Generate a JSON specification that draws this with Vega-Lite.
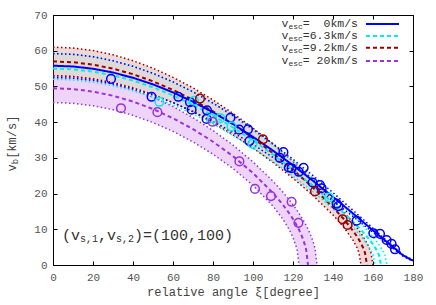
{
  "$schema": "https://vega.github.io/schema/vega-lite/v6.json",
  "width": 360,
  "height": 250,
  "autosize": {"type": "none"},
  "padding": {"left": 53, "top": 15, "right": 23, "bottom": 40},
  "background": "white",
  "config": {
    "view": {"stroke": "#000", "strokeWidth": 1},
    "axis": {
      "labelFont": "Liberation Mono",
      "labelFontSize": 11,
      "labelColor": "#555",
      "titleFont": "Liberation Mono",
      "titleFontSize": 12,
      "titleFontWeight": "normal",
      "titleColor": "#444",
      "tickColor": "#000",
      "domain": false,
      "grid": false
    }
  },
  "datasets": {
    "curves": [
      {"s": "20", "xi": 0, "lo": 45.5, "mid": 49.5, "hi": 53},
      {"s": "20", "xi": 10, "lo": 45.28, "mid": 49.27, "hi": 52.76},
      {"s": "20", "xi": 20, "lo": 44.6, "mid": 48.56, "hi": 52.03},
      {"s": "20", "xi": 30, "lo": 43.48, "mid": 47.39, "hi": 50.83},
      {"s": "20", "xi": 40, "lo": 41.91, "mid": 45.76, "hi": 49.15},
      {"s": "20", "xi": 50, "lo": 39.89, "mid": 43.66, "hi": 46.99},
      {"s": "20", "xi": 60, "lo": 37.42, "mid": 41.09, "hi": 44.36},
      {"s": "20", "xi": 70, "lo": 34.47, "mid": 38.05, "hi": 41.25},
      {"s": "20", "xi": 80, "lo": 31.03, "mid": 34.52, "hi": 37.66},
      {"s": "20", "xi": 90, "lo": 27.02, "mid": 30.45, "hi": 33.56},
      {"s": "20", "xi": 100, "lo": 22.3, "mid": 25.74, "hi": 28.88},
      {"s": "20", "xi": 110, "lo": 16.48, "mid": 20.16, "hi": 23.46},
      {"s": "20", "xi": 115, "lo": 12.79, "mid": 16.84, "hi": 20.37},
      {"s": "20", "xi": 118, "lo": 10.04, "mid": 14.56, "hi": 18.33},
      {"s": "20", "xi": 120, "lo": 7.74, "mid": 12.87, "hi": 16.87},
      {"s": "20", "xi": 122, "lo": 4.44, "mid": 10.96, "hi": 15.31},
      {"s": "20", "xi": 123, "lo": 0.01, "mid": 9.88, "hi": 14.47},
      {"s": "20", "xi": 125, "lo": 0, "mid": 7.32, "hi": 12.68},
      {"s": "20", "xi": 126.5, "lo": 0, "mid": 4.58, "hi": 11.17},
      {"s": "20", "xi": 127.5, "lo": 0, "mid": 0.01, "hi": 10.08},
      {"s": "20", "xi": 128, "lo": 0, "mid": null, "hi": 9.49},
      {"s": "20", "xi": 130, "lo": 0, "mid": null, "hi": 6.66},
      {"s": "20", "xi": 131, "lo": 0, "mid": null, "hi": 4.69},
      {"s": "20", "xi": 132, "lo": 0, "mid": null, "hi": 0.01},

      {"s": "9.2", "xi": 0, "lo": 53, "mid": 57, "hi": 61},
      {"s": "9.2", "xi": 10, "lo": 52.79, "mid": 56.77, "hi": 60.76},
      {"s": "9.2", "xi": 20, "lo": 52.15, "mid": 56.1, "hi": 60.04},
      {"s": "9.2", "xi": 30, "lo": 51.1, "mid": 54.98, "hi": 58.86},
      {"s": "9.2", "xi": 40, "lo": 49.63, "mid": 53.41, "hi": 57.2},
      {"s": "9.2", "xi": 50, "lo": 47.76, "mid": 51.43, "hi": 55.1},
      {"s": "9.2", "xi": 60, "lo": 45.49, "mid": 49.02, "hi": 52.55},
      {"s": "9.2", "xi": 70, "lo": 42.84, "mid": 46.22, "hi": 49.59},
      {"s": "9.2", "xi": 80, "lo": 39.83, "mid": 43.02, "hi": 46.21},
      {"s": "9.2", "xi": 90, "lo": 36.46, "mid": 39.46, "hi": 42.46},
      {"s": "9.2", "xi": 100, "lo": 32.75, "mid": 35.55, "hi": 38.33},
      {"s": "9.2", "xi": 110, "lo": 28.7, "mid": 31.28, "hi": 33.86},
      {"s": "9.2", "xi": 120, "lo": 24.29, "mid": 26.67, "hi": 29.04},
      {"s": "9.2", "xi": 130, "lo": 19.46, "mid": 21.67, "hi": 23.87},
      {"s": "9.2", "xi": 140, "lo": 14.01, "mid": 16.16, "hi": 18.25},
      {"s": "9.2", "xi": 145, "lo": 10.85, "mid": 13.09, "hi": 15.21},
      {"s": "9.2", "xi": 150, "lo": 6.96, "mid": 9.6, "hi": 11.89},
      {"s": "9.2", "xi": 152, "lo": 4.84, "mid": 7.97, "hi": 10.43},
      {"s": "9.2", "xi": 153, "lo": 3.4, "mid": 7.06, "hi": 9.66},
      {"s": "9.2", "xi": 154, "lo": 0.01, "mid": 6.06, "hi": 8.86},
      {"s": "9.2", "xi": 155, "lo": 0, "mid": 4.9, "hi": 8.0},
      {"s": "9.2", "xi": 156, "lo": 0, "mid": 3.42, "hi": 7.08},
      {"s": "9.2", "xi": 157, "lo": 0, "mid": 0.01, "hi": 6.07},
      {"s": "9.2", "xi": 158, "lo": 0, "mid": null, "hi": 4.9},
      {"s": "9.2", "xi": 159, "lo": 0, "mid": null, "hi": 3.43},
      {"s": "9.2", "xi": 160, "lo": 0, "mid": null, "hi": 0.01},

      {"s": "6.3", "xi": 0, "lo": 52, "mid": 55, "hi": 59.3},
      {"s": "6.3", "xi": 10, "lo": 51.8, "mid": 54.79, "hi": 59.07},
      {"s": "6.3", "xi": 20, "lo": 51.19, "mid": 54.15, "hi": 58.39},
      {"s": "6.3", "xi": 30, "lo": 50.18, "mid": 53.09, "hi": 57.25},
      {"s": "6.3", "xi": 40, "lo": 48.77, "mid": 51.62, "hi": 55.68},
      {"s": "6.3", "xi": 50, "lo": 46.98, "mid": 49.74, "hi": 53.67},
      {"s": "6.3", "xi": 60, "lo": 44.82, "mid": 47.47, "hi": 51.24},
      {"s": "6.3", "xi": 70, "lo": 42.3, "mid": 44.83, "hi": 48.42},
      {"s": "6.3", "xi": 80, "lo": 39.44, "mid": 41.84, "hi": 45.22},
      {"s": "6.3", "xi": 90, "lo": 36.25, "mid": 38.5, "hi": 41.66},
      {"s": "6.3", "xi": 100, "lo": 32.75, "mid": 34.85, "hi": 37.76},
      {"s": "6.3", "xi": 110, "lo": 28.96, "mid": 30.91, "hi": 33.56},
      {"s": "6.3", "xi": 120, "lo": 24.88, "mid": 26.67, "hi": 29.07},
      {"s": "6.3", "xi": 130, "lo": 20.51, "mid": 22.16, "hi": 24.3},
      {"s": "6.3", "xi": 140, "lo": 15.79, "mid": 17.35, "hi": 19.26},
      {"s": "6.3", "xi": 150, "lo": 10.51, "mid": 12.12, "hi": 13.89},
      {"s": "6.3", "xi": 155, "lo": 7.38, "mid": 9.21, "hi": 11.01},
      {"s": "6.3", "xi": 158, "lo": 5.05, "mid": 7.25, "hi": 9.17},
      {"s": "6.3", "xi": 160, "lo": 2.85, "mid": 5.77, "hi": 7.86},
      {"s": "6.3", "xi": 161, "lo": 0.01, "mid": 4.93, "hi": 7.17},
      {"s": "6.3", "xi": 162, "lo": 0, "mid": 3.97, "hi": 6.44},
      {"s": "6.3", "xi": 163, "lo": 0, "mid": 2.77, "hi": 5.67},
      {"s": "6.3", "xi": 164, "lo": 0, "mid": 0.01, "hi": 4.82},
      {"s": "6.3", "xi": 165, "lo": 0, "mid": null, "hi": 3.88},
      {"s": "6.3", "xi": 166, "lo": 0, "mid": null, "hi": 2.69},
      {"s": "6.3", "xi": 167, "lo": 0, "mid": null, "hi": 0.01},

      {"s": "0", "xi": 0, "lo": 52.5, "mid": 55.8, "hi": 59.2},
      {"s": "0", "xi": 10, "lo": 52.3, "mid": 55.59, "hi": 58.97},
      {"s": "0", "xi": 20, "lo": 51.7, "mid": 54.95, "hi": 58.3},
      {"s": "0", "xi": 30, "lo": 50.71, "mid": 53.9, "hi": 57.18},
      {"s": "0", "xi": 40, "lo": 49.33, "mid": 52.43, "hi": 55.63},
      {"s": "0", "xi": 50, "lo": 47.58, "mid": 50.57, "hi": 53.65},
      {"s": "0", "xi": 60, "lo": 45.47, "mid": 48.32, "hi": 51.27},
      {"s": "0", "xi": 70, "lo": 43.01, "mid": 45.71, "hi": 48.49},
      {"s": "0", "xi": 80, "lo": 40.22, "mid": 42.75, "hi": 45.35},
      {"s": "0", "xi": 90, "lo": 37.12, "mid": 39.46, "hi": 41.86},
      {"s": "0", "xi": 100, "lo": 33.75, "mid": 35.87, "hi": 38.05},
      {"s": "0", "xi": 110, "lo": 30.11, "mid": 32.01, "hi": 33.96},
      {"s": "0", "xi": 120, "lo": 26.25, "mid": 27.9, "hi": 29.6},
      {"s": "0", "xi": 130, "lo": 22.19, "mid": 23.58, "hi": 25.02},
      {"s": "0", "xi": 140, "lo": 17.96, "mid": 19.08, "hi": 20.25},
      {"s": "0", "xi": 150, "lo": 13.59, "mid": 14.44, "hi": 15.32},
      {"s": "0", "xi": 160, "lo": 9.12, "mid": 9.69, "hi": 10.28},
      {"s": "0", "xi": 170, "lo": 4.7, "mid": 5.0, "hi": 5.3},
      {"s": "0", "xi": 175, "lo": 2.5, "mid": 2.7, "hi": 2.9},
      {"s": "0", "xi": 180, "lo": 1.0, "mid": 1.2, "hi": 1.4}
    ],
    "pts": [
      {"s": "0", "xi": 29, "v": 52.1},
      {"s": "0", "xi": 49.3, "v": 47.1},
      {"s": "0", "xi": 62.7, "v": 47.1},
      {"s": "0", "xi": 68.5, "v": 45.6},
      {"s": "0", "xi": 69.3, "v": 43.5},
      {"s": "0", "xi": 77, "v": 43.3},
      {"s": "0", "xi": 76.8, "v": 40.9},
      {"s": "0", "xi": 88.7, "v": 41.2},
      {"s": "0", "xi": 93.1, "v": 37.9},
      {"s": "0", "xi": 97.5, "v": 38.0},
      {"s": "0", "xi": 98.2, "v": 34.7},
      {"s": "0", "xi": 113.4, "v": 30.0},
      {"s": "0", "xi": 115.2, "v": 31.6},
      {"s": "0", "xi": 117.9, "v": 27.3},
      {"s": "0", "xi": 119.3, "v": 27.1},
      {"s": "0", "xi": 122.9, "v": 26.1},
      {"s": "0", "xi": 125.3, "v": 27.2},
      {"s": "0", "xi": 129.8, "v": 23.1},
      {"s": "0", "xi": 133.5, "v": 22.4},
      {"s": "0", "xi": 134.3, "v": 21.5},
      {"s": "0", "xi": 141.8, "v": 17.2},
      {"s": "0", "xi": 142.7, "v": 16.5},
      {"s": "0", "xi": 151.8, "v": 12.4},
      {"s": "0", "xi": 160.2, "v": 8.9},
      {"s": "0", "xi": 163.5, "v": 8.7},
      {"s": "0", "xi": 166.8, "v": 7.0},
      {"s": "0", "xi": 169.3, "v": 5.9},
      {"s": "0", "xi": 171, "v": 4.4},
      {"s": "6.3", "xi": 53.2, "v": 45.7},
      {"s": "6.3", "xi": 70.5, "v": 46.0},
      {"s": "6.3", "xi": 79.5, "v": 41.1},
      {"s": "6.3", "xi": 83.7, "v": 41.1},
      {"s": "6.3", "xi": 89.3, "v": 38.8},
      {"s": "6.3", "xi": 99.8, "v": 33.9},
      {"s": "6.3", "xi": 138, "v": 18.9},
      {"s": "9.2", "xi": 73.5, "v": 46.6},
      {"s": "9.2", "xi": 105, "v": 35.2},
      {"s": "9.2", "xi": 131, "v": 20.6},
      {"s": "9.2", "xi": 144.8, "v": 12.8},
      {"s": "9.2", "xi": 147.3, "v": 11.2},
      {"s": "20", "xi": 34, "v": 43.9},
      {"s": "20", "xi": 52.2, "v": 42.8},
      {"s": "20", "xi": 79.8, "v": 40.1},
      {"s": "20", "xi": 93.2, "v": 29.0},
      {"s": "20", "xi": 101, "v": 21.3},
      {"s": "20", "xi": 109, "v": 19.3},
      {"s": "20", "xi": 119.3, "v": 17.7},
      {"s": "20", "xi": 122.7, "v": 11.8}
    ],
    "one": [{}]
  },
  "layer": [
    {
      "layer": [
        {
          "data": {"name": "curves"},
          "transform": [{"filter": "datum.s == '20'"}],
          "mark": {"type": "area", "color": "#9400d3", "opacity": 0.17},
          "encoding": {
            "x": {"field": "xi", "type": "quantitative", "scale": {"domain": [0, 180], "nice": false},
                  "axis": {"tickCount": 9, "labelOverlap": false, "labelFlush": false, "ticks": false, "labelPadding": 6, "title": "relative angle ξ[degree]", "titlePadding": 4}},
            "y": {"field": "hi", "type": "quantitative", "stack": null, "scale": {"domain": [0, 70], "nice": false},
                  "axis": {"tickCount": 7, "labelOverlap": false, "labelFlush": false, "ticks": false, "labelPadding": 6, "title": null}},
            "y2": {"field": "lo"}
          }
        },
        {
          "data": {"name": "curves"},
          "transform": [{"filter": "datum.s == '6.3'"}],
          "mark": {"type": "area", "color": "#00ffff", "opacity": 0.07},
          "encoding": {
            "x": {"field": "xi", "type": "quantitative"},
            "y": {"field": "hi", "type": "quantitative", "stack": null},
            "y2": {"field": "lo"}
          }
        },
        {
          "data": {"name": "curves"},
          "transform": [{"filter": "datum.s == '9.2'"}],
          "mark": {"type": "area", "color": "#b03030", "opacity": 0.19},
          "encoding": {
            "x": {"field": "xi", "type": "quantitative"},
            "y": {"field": "hi", "type": "quantitative", "stack": null},
            "y2": {"field": "lo"}
          }
        },
        {
          "data": {"name": "curves"},
          "transform": [{"fold": ["lo", "hi"], "as": ["k", "v"]}, {"filter": "datum.v > 0"}],
          "mark": {"type": "line", "strokeWidth": 1.5, "strokeDash": [1.5, 2.5]},
          "encoding": {
            "x": {"field": "xi", "type": "quantitative"},
            "y": {"field": "v", "type": "quantitative"},
            "color": {"field": "s", "type": "nominal", "legend": null,
                      "scale": {"domain": ["20", "9.2", "6.3", "0"], "range": ["#9933dd", "#9a0000", "#00eeee", "#0000ff"]}},
            "detail": {"field": "k"}
          }
        },
        {
          "data": {"name": "curves"},
          "transform": [{"filter": "datum.mid > 0"}],
          "mark": {"type": "line", "strokeWidth": 2},
          "encoding": {
            "x": {"field": "xi", "type": "quantitative"},
            "y": {"field": "mid", "type": "quantitative"},
            "color": {"field": "s", "type": "nominal", "legend": null},
            "strokeDash": {"field": "s", "type": "nominal", "legend": null,
                           "scale": {"domain": ["20", "9.2", "6.3", "0"], "range": [[4, 3], [4, 3], [4, 3], [1, 0]]}}
          }
        },
        {
          "data": {"name": "pts"},
          "mark": {"type": "point", "shape": "circle", "filled": false, "size": 75, "strokeWidth": 1.5, "opacity": 1},
          "encoding": {
            "x": {"field": "xi", "type": "quantitative"},
            "y": {"field": "v", "type": "quantitative"},
            "color": {"field": "s", "type": "nominal", "legend": null}
          }
        },
        {
          "data": {"name": "one"},
          "encoding": {"x": {"datum": 152.5, "type": "quantitative"}, "y": {"datum": 67.5, "type": "quantitative"}},
          "layer": [
            {"mark": {"type": "text", "text": "=\u00a0\u00a00km/s", "align": "right", "baseline": "middle", "font": "Liberation Mono", "fontSize": 11.5, "color": "#333"}},
            {"mark": {"type": "text", "text": "esc", "align": "right", "baseline": "middle", "dx": -55.2, "dy": 3, "font": "Liberation Mono", "fontSize": 8, "color": "#333"}},
            {"mark": {"type": "text", "text": "v", "align": "right", "baseline": "middle", "dx": -69.6, "font": "Liberation Mono", "fontSize": 11.5, "color": "#333"}},
            {"mark": {"type": "rule", "color": "#0000ff", "strokeWidth": 2}, "encoding": {"x": {"datum": 156.5, "type": "quantitative"}, "x2": {"datum": 173}}}
          ]
        },
        {
          "data": {"name": "one"},
          "encoding": {"x": {"datum": 152.5, "type": "quantitative"}, "y": {"datum": 64.1, "type": "quantitative"}},
          "layer": [
            {"mark": {"type": "text", "text": "=6.3km/s", "align": "right", "baseline": "middle", "font": "Liberation Mono", "fontSize": 11.5, "color": "#333"}},
            {"mark": {"type": "text", "text": "esc", "align": "right", "baseline": "middle", "dx": -55.2, "dy": 3, "font": "Liberation Mono", "fontSize": 8, "color": "#333"}},
            {"mark": {"type": "text", "text": "v", "align": "right", "baseline": "middle", "dx": -69.6, "font": "Liberation Mono", "fontSize": 11.5, "color": "#333"}},
            {"mark": {"type": "rule", "color": "#00eeee", "strokeWidth": 2, "strokeDash": [4, 3]}, "encoding": {"x": {"datum": 156.5, "type": "quantitative"}, "x2": {"datum": 173}}}
          ]
        },
        {
          "data": {"name": "one"},
          "encoding": {"x": {"datum": 152.5, "type": "quantitative"}, "y": {"datum": 60.8, "type": "quantitative"}},
          "layer": [
            {"mark": {"type": "text", "text": "=9.2km/s", "align": "right", "baseline": "middle", "font": "Liberation Mono", "fontSize": 11.5, "color": "#333"}},
            {"mark": {"type": "text", "text": "esc", "align": "right", "baseline": "middle", "dx": -55.2, "dy": 3, "font": "Liberation Mono", "fontSize": 8, "color": "#333"}},
            {"mark": {"type": "text", "text": "v", "align": "right", "baseline": "middle", "dx": -69.6, "font": "Liberation Mono", "fontSize": 11.5, "color": "#333"}},
            {"mark": {"type": "rule", "color": "#9a0000", "strokeWidth": 2, "strokeDash": [4, 3]}, "encoding": {"x": {"datum": 156.5, "type": "quantitative"}, "x2": {"datum": 173}}}
          ]
        },
        {
          "data": {"name": "one"},
          "encoding": {"x": {"datum": 152.5, "type": "quantitative"}, "y": {"datum": 57.1, "type": "quantitative"}},
          "layer": [
            {"mark": {"type": "text", "text": "=\u00a020km/s", "align": "right", "baseline": "middle", "font": "Liberation Mono", "fontSize": 11.5, "color": "#333"}},
            {"mark": {"type": "text", "text": "esc", "align": "right", "baseline": "middle", "dx": -55.2, "dy": 3, "font": "Liberation Mono", "fontSize": 8, "color": "#333"}},
            {"mark": {"type": "text", "text": "v", "align": "right", "baseline": "middle", "dx": -69.6, "font": "Liberation Mono", "fontSize": 11.5, "color": "#333"}},
            {"mark": {"type": "rule", "color": "#9933dd", "strokeWidth": 2, "strokeDash": [4, 3]}, "encoding": {"x": {"datum": 156.5, "type": "quantitative"}, "x2": {"datum": 173}}}
          ]
        },
        {
          "data": {"name": "one"},
          "encoding": {"x": {"datum": 4.5, "type": "quantitative"}, "y": {"datum": 8.4, "type": "quantitative"}},
          "layer": [
            {"mark": {"type": "text", "text": "(v", "align": "left", "baseline": "middle", "font": "Liberation Mono", "fontSize": 15, "color": "#333"}},
            {"mark": {"type": "text", "text": "s,1", "align": "left", "baseline": "middle", "dx": 18, "dy": 4, "font": "Liberation Mono", "fontSize": 10, "color": "#333"}},
            {"mark": {"type": "text", "text": ",v", "align": "left", "baseline": "middle", "dx": 36, "font": "Liberation Mono", "fontSize": 15, "color": "#333"}},
            {"mark": {"type": "text", "text": "s,2", "align": "left", "baseline": "middle", "dx": 54, "dy": 4, "font": "Liberation Mono", "fontSize": 10, "color": "#333"}},
            {"mark": {"type": "text", "text": ")=(100,100)", "align": "left", "baseline": "middle", "dx": 72, "font": "Liberation Mono", "fontSize": 15, "color": "#333"}}
          ]
        },
        {
          "data": {"name": "one"},
          "encoding": {"x": {"datum": -20.5, "type": "quantitative"}, "y": {"datum": 34, "type": "quantitative"}},
          "layer": [
            {"mark": {"type": "text", "text": "v", "angle": 270, "align": "left", "baseline": "middle", "dx": -27.9, "font": "Liberation Mono", "fontSize": 12, "color": "#444"}},
            {"mark": {"type": "text", "text": "b", "angle": 270, "align": "left", "baseline": "middle", "dx": -20.7, "dy": 3, "font": "Liberation Mono", "fontSize": 9, "color": "#444"}},
            {"mark": {"type": "text", "text": "[km/s]", "angle": 270, "align": "left", "baseline": "middle", "dx": -15.3, "font": "Liberation Mono", "fontSize": 12, "color": "#444"}}
          ]
        }
      ]
    },
    {
      "data": {"name": "pts"},
      "mark": {"type": "point", "opacity": 0},
      "encoding": {
        "x": {"field": "xi", "type": "quantitative",
              "axis": {"orient": "bottom", "labels": false, "tickCount": 9, "tickSize": -4, "title": null}},
        "y": {"field": "v", "type": "quantitative",
              "axis": {"orient": "left", "labels": false, "tickCount": 7, "tickSize": -4, "title": null}}
      }
    },
    {
      "data": {"name": "pts"},
      "mark": {"type": "point", "opacity": 0},
      "encoding": {
        "x": {"field": "xi", "type": "quantitative",
              "axis": {"orient": "top", "labels": false, "tickCount": 9, "tickSize": -4, "title": null}},
        "y": {"field": "v", "type": "quantitative",
              "axis": {"orient": "right", "labels": false, "tickCount": 7, "tickSize": -4, "title": null}}
      }
    }
  ],
  "resolve": {"axis": {"x": "independent", "y": "independent"}}
}
